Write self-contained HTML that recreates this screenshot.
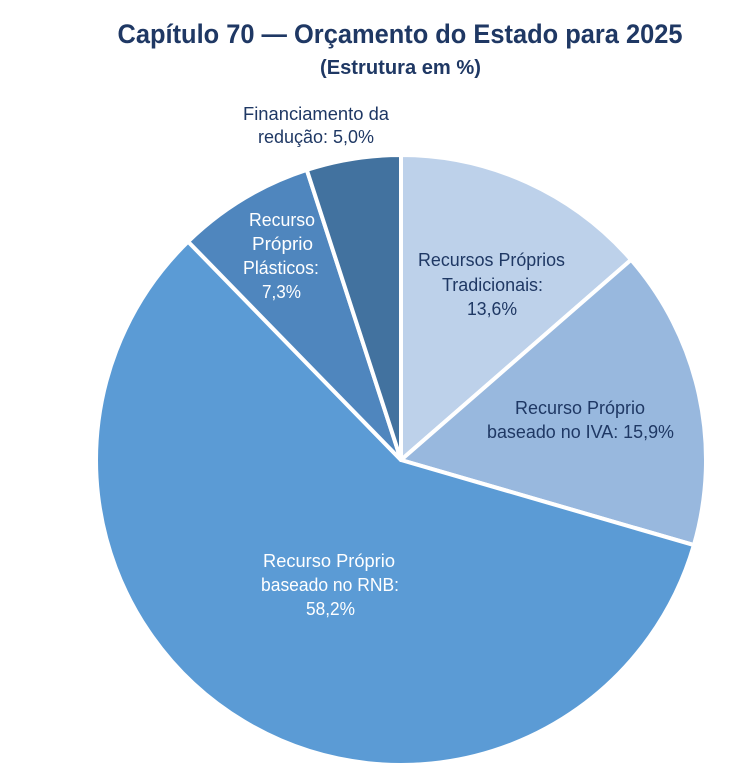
<!DOCTYPE html>
<html>
<head>
<meta charset="utf-8">
<style>
  html, body { margin:0; padding:0; background:#ffffff; }
  body { width:756px; height:778px; overflow:hidden; }
  svg { display:block; }
  text { font-family: "Liberation Sans", "DejaVu Sans", sans-serif; }
</style>
</head>
<body>
<svg width="756" height="778" viewBox="0 0 756 778" xmlns="http://www.w3.org/2000/svg">
  <rect x="0" y="0" width="756" height="778" fill="#ffffff"/>

  <text x="400" y="43" text-anchor="middle" font-size="26.5" font-weight="bold" fill="#1F3864" textLength="565" lengthAdjust="spacingAndGlyphs">Capítulo 70 — Orçamento do Estado para 2025</text>
  <text x="400.5" y="74" text-anchor="middle" font-size="20" font-weight="bold" fill="#1F3864" textLength="161" lengthAdjust="spacingAndGlyphs">(Estrutura em %)</text>

  <g stroke="#ffffff" stroke-width="4" stroke-linejoin="round">
    <path d="M401,460 L401,155 A305,305 0 0 1 631.1,259.8 Z" fill="#BDD1EA"/>
    <path d="M401,460 L631.1,259.8 A305,305 0 0 1 693.9,545.1 Z" fill="#98B8DE"/>
    <path d="M401,460 L693.9,545.1 A305,305 0 1 1 188.1,241.6 Z" fill="#5B9BD5"/>
    <path d="M401,460 L188.1,241.6 A305,305 0 0 1 306.8,169.9 Z" fill="#4F86BE"/>
    <path d="M401,460 L306.8,169.9 A305,305 0 0 1 401,155 Z" fill="#42729F"/>
  </g>

  <g font-size="18" fill="#1F3864" text-anchor="middle">
    <text x="316" y="120" textLength="146" lengthAdjust="spacingAndGlyphs">Financiamento da</text>
    <text x="316" y="143" textLength="116" lengthAdjust="spacingAndGlyphs">redução: 5,0%</text>

    <text x="491.5" y="266" textLength="147" lengthAdjust="spacingAndGlyphs">Recursos Próprios</text>
    <text x="492.5" y="291" textLength="101" lengthAdjust="spacingAndGlyphs">Tradicionais:</text>
    <text x="492" y="315" textLength="50" lengthAdjust="spacingAndGlyphs">13,6%</text>

    <text x="580" y="414" textLength="130" lengthAdjust="spacingAndGlyphs">Recurso Próprio</text>
    <text x="580.5" y="438" textLength="187" lengthAdjust="spacingAndGlyphs">baseado no IVA: 15,9%</text>
  </g>

  <g font-size="18" fill="#ffffff" text-anchor="middle">
    <text x="282" y="226" textLength="66" lengthAdjust="spacingAndGlyphs">Recurso</text>
    <text x="282.5" y="250" textLength="61" lengthAdjust="spacingAndGlyphs">Próprio</text>
    <text x="281" y="274" textLength="76" lengthAdjust="spacingAndGlyphs">Plásticos:</text>
    <text x="281.5" y="298" textLength="39" lengthAdjust="spacingAndGlyphs">7,3%</text>

    <text x="329" y="567" textLength="132" lengthAdjust="spacingAndGlyphs">Recurso Próprio</text>
    <text x="330" y="591" textLength="138" lengthAdjust="spacingAndGlyphs">baseado no RNB:</text>
    <text x="330.5" y="615" textLength="49" lengthAdjust="spacingAndGlyphs">58,2%</text>
  </g>
</svg>
</body>
</html>
